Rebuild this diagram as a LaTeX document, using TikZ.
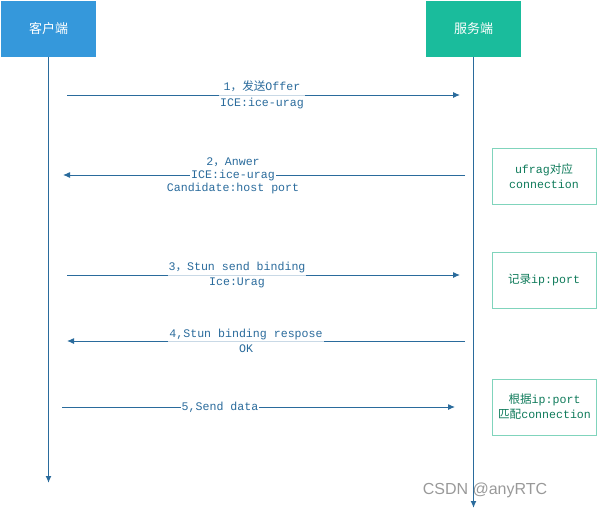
\documentclass[tikz,border=0pt]{standalone}
\usepackage{fontspec}
\setmainfont{Liberation Mono}
\newfontfamily\cjk{Noto Sans CJK SC}
\newfontfamily\wmfont{Liberation Sans}
\usetikzlibrary{arrows.meta}
\definecolor{clientblue}{HTML}{3598DB}
\definecolor{serverteal}{HTML}{1ABC9C}
\definecolor{msgblue}{HTML}{2A6B9C}
\definecolor{noteline}{HTML}{80D4BC}
\definecolor{notetext}{HTML}{0E7A5A}
\tikzset{
  actor/.style={minimum width=95pt, minimum height=56pt, inner sep=0pt,
    text=white, font=\cjk\fontsize{13}{15}\selectfont},
  life/.style={draw=msgblue, line width=1.3pt, -{Latex[length=7pt,width=6pt]}},
  msg/.style={draw=msgblue, line width=1pt, -{Latex[length=7pt,width=6pt]}},
  lbl/.style={fill=white, fill opacity=0.75, text opacity=1, text=msgblue,
    inner sep=1pt, align=center, font=\fontsize{11.6}{15.5}\selectfont},
  note/.style={draw=noteline, line width=1pt, minimum width=104pt,
    minimum height=56pt, inner sep=0pt, text=notetext, align=center,
    font=\fontsize{11.6}{15}\selectfont}
}
\begin{document}
\begin{tikzpicture}[x=1pt,y=-1pt]
  \useasboundingbox (0,0) rectangle (597,511);

  % actors and lifelines
  \node[actor, fill=clientblue] (client) at (48.5,29) {客户端};
  \node[actor, fill=serverteal] (server) at (473.5,29) {服务端};
  \coordinate (clientEnd) at (client.south |- 0,483);
  \coordinate (serverEnd) at (server.south |- 0,508);
  \draw[life] (client.south) -- (clientEnd);
  \draw[life] (server.south) -- (serverEnd);

  % 1
  \coordinate (m1a) at (67,95);
  \coordinate (m1b) at (460,95);
  \draw[msg] (m1a) -- (m1b);
  \node[lbl] (m1) at (262,95) {1{\cjk ，发送}Offer\\ICE:ice-urag};

  % 2
  \coordinate (m2a) at (465,175);
  \coordinate (m2b) at (63,175);
  \draw[msg] (m2a) -- (m2b);
  \node[lbl, fill opacity=1] (m2) at (233,175) {ICE:ice-urag};
  \node[lbl, fill=none, above=0pt] (m2top) at (m2.north) {2{\cjk ，}Anwer};
  \node[lbl, fill=none, below=0pt] (m2bot) at (m2.south) {Candidate:host port};

  % 3
  \coordinate (m3a) at (67,275);
  \coordinate (m3b) at (460,275);
  \draw[msg] (m3a) -- (m3b);
  \node[lbl] (m3) at (237,275) {3{\cjk ，}Stun send binding\\Ice:Urag};

  % 4
  \coordinate (m4a) at (465,341);
  \coordinate (m4b) at (67,341);
  \draw[msg] (m4a) -- (m4b);
  \node[lbl] (m4) at (246,341) {4,Stun binding respose\\OK};

  % 5
  \coordinate (m5a) at (62,407);
  \coordinate (m5b) at (455,407);
  \draw[msg] (m5a) -- (m5b);
  \node[lbl, fill opacity=1] (m5) at (220,407) {5,Send data};

  % server notes
  \node[note] (n1) at (544,176) {ufrag{\cjk 对应}\\connection};
  \node[note] (n2) at (544,280) {{\cjk 记录}ip:port};
  \node[note] (n3) at (544.5,407) {{\cjk 根据}ip:port\\{\cjk 匹配}connection};

  \node[text=gray, opacity=0.8, font=\wmfont\fontsize{16}{18}\selectfont] (mark) at (485,490) {CSDN @anyRTC};
\end{tikzpicture}
\end{document}
